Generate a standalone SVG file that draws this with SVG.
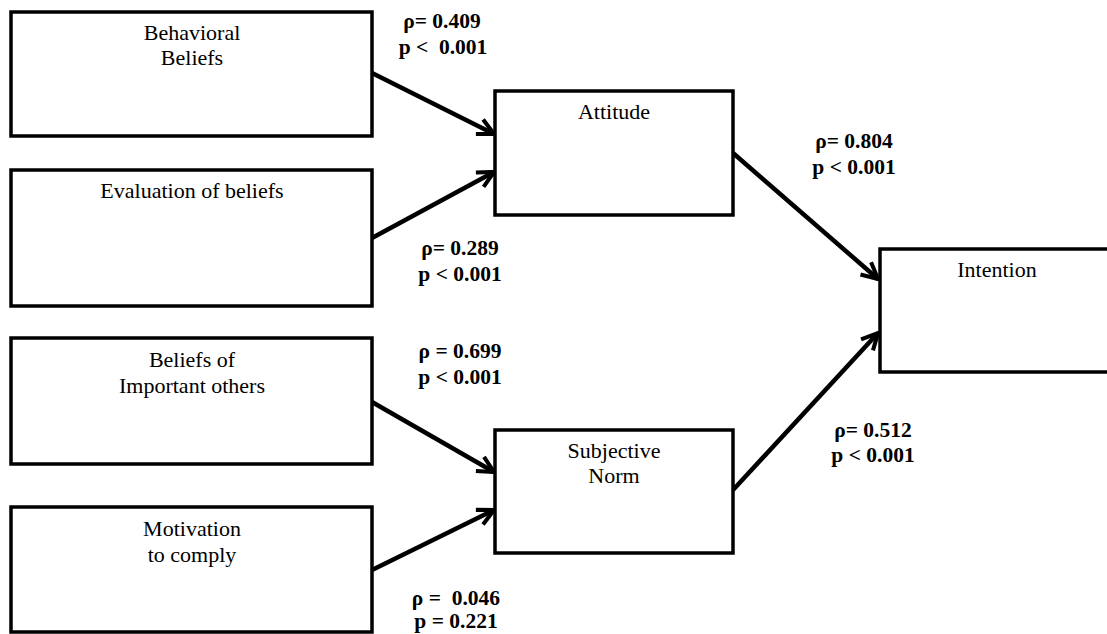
<svg xmlns="http://www.w3.org/2000/svg" width="1107" height="634" viewBox="0 0 1107 634">
<defs>
<style>
.box{fill:#fff;stroke:#000;stroke-width:3.5}
.t{font-size:22px;fill:#000;text-anchor:middle}
.l{font-size:21.5px;font-weight:bold;fill:#000;text-anchor:middle}
.c{stroke:#000;stroke-width:4.5;fill:none;marker-end:url(#ah)}
</style>
<marker id="ah" viewBox="0 0 10 10" refX="9" refY="5" markerWidth="4.5" markerHeight="4.5" orient="auto" markerUnits="strokeWidth">
<path d="M1,1 L9,5 L1,9" fill="none" stroke="#000" stroke-width="2"/>
</marker>
</defs>
<rect width="1107" height="634" fill="#fff"/>
<g id="connectors">
<line class="c" x1="372" y1="73" x2="494" y2="134"/>
<line class="c" x1="372" y1="238" x2="494" y2="172"/>
<line class="c" x1="733" y1="153" x2="878" y2="279"/>
<line class="c" x1="733" y1="490" x2="878" y2="333"/>
<line class="c" x1="372" y1="402" x2="494" y2="472"/>
<line class="c" x1="372" y1="570" x2="494" y2="510"/>
</g>
<g font-family="'Liberation Serif', 'DejaVu Serif', serif">
<g id="behavioral-beliefs">
<rect class="box" x="11" y="12" width="361" height="124"/>
<text class="t" x="192" y="40">Behavioral</text>
<text class="t" x="192" y="65">Beliefs</text>
</g>
<g id="evaluation-of-beliefs">
<rect class="box" x="11" y="170" width="361" height="136"/>
<text class="t" x="192" y="198">Evaluation of beliefs</text>
</g>
<g id="beliefs-important-others">
<rect class="box" x="11" y="338" width="361" height="126"/>
<text class="t" x="192" y="367">Beliefs of</text>
<text class="t" x="192" y="393">Important others</text>
</g>
<g id="motivation-to-comply">
<rect class="box" x="11" y="507" width="361" height="125"/>
<text class="t" x="192" y="536">Motivation</text>
<text class="t" x="192" y="562">to comply</text>
</g>
<g id="attitude">
<rect class="box" x="495" y="91" width="238" height="124"/>
<text class="t" x="614" y="119">Attitude</text>
</g>
<g id="subjective-norm">
<rect class="box" x="495" y="430" width="238" height="123"/>
<text class="t" x="614" y="458">Subjective</text>
<text class="t" x="614" y="483">Norm</text>
</g>
<g id="intention">
<rect class="box" x="880" y="249" width="240" height="123"/>
<text class="t" x="997" y="277">Intention</text>
</g>
<g id="labels">
<text class="l" x="442" y="28">ρ= 0.409</text>
<text class="l" x="443" y="54" xml:space="preserve">p &lt;  0.001</text>
<text class="l" x="460" y="255">ρ= 0.289</text>
<text class="l" x="460" y="281">p &lt; 0.001</text>
<text class="l" x="460" y="358">ρ = 0.699</text>
<text class="l" x="460" y="384">p &lt; 0.001</text>
<text class="l" x="456" y="605" xml:space="preserve">ρ =  0.046</text>
<text class="l" x="456" y="628">p = 0.221</text>
<text class="l" x="854" y="148">ρ= 0.804</text>
<text class="l" x="854" y="174">p &lt; 0.001</text>
<text class="l" x="873" y="437">ρ= 0.512</text>
<text class="l" x="873" y="462">p &lt; 0.001</text>
</g>
</g>
</svg>
